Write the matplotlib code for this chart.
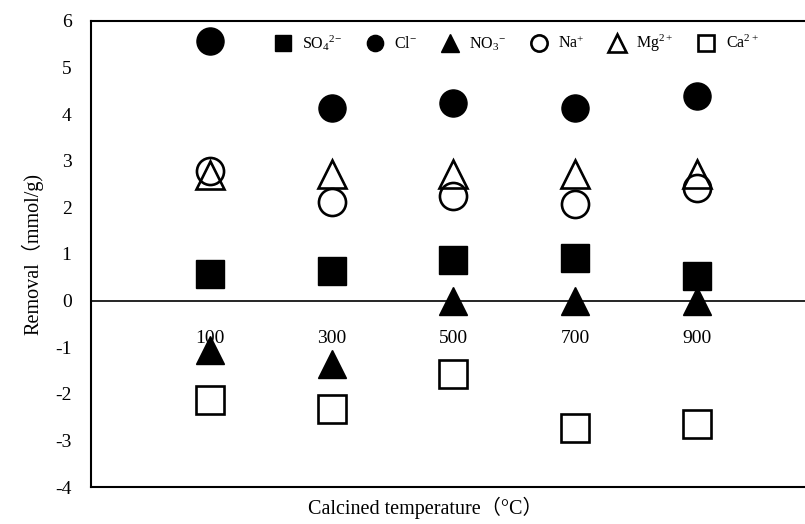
import numpy as np
import matplotlib
matplotlib.use('Agg')
import matplotlib.pyplot as plt

plt.rcParams['font.family'] = ['Liberation Serif', 'Noto Sans CJK SC']
plt.rcParams['mathtext.fontset'] = 'custom'
plt.rcParams['mathtext.rm'] = 'Liberation Serif'
plt.rcParams['mathtext.it'] = 'Liberation Serif'
plt.rcParams['axes.unicode_minus'] = False

# Calcination temperatures (categories)
temps = ['100', '300', '500', '700', '900']

# Removal (mmol/g)
so4 = [0.58, 0.63, 0.88, 0.92, 0.52]
cl = [5.56, 4.14, 4.25, 4.14, 4.40]
no3 = [-1.06, -1.36, 0.0, 0.0, 0.0]
na = [2.77, 2.12, 2.24, 2.08, 2.41]
mg = [2.70, 2.72, 2.71, 2.72, 2.71]
ca = [-2.14, -2.32, -1.57, -2.73, -2.64]

x = np.arange(len(temps))

fig = plt.figure(figsize=(8.05, 5.24), dpi=100)
ax = fig.add_axes([0.113, 0.0706, 0.887, 0.8894])

ms = 19.5
ax.plot(x, so4, 's', ms=ms, color='black', label=r'SO$_4$$^{2\mathrm{-}}$', clip_on=False)
ax.plot(x, cl, 'o', ms=ms, color='black', label=r'Cl$^{\mathrm{-}}$', clip_on=False)
ax.plot(x, no3, '^', ms=ms + 1, color='black', label=r'NO$_3$$^{\mathrm{-}}$', clip_on=False)
ax.plot(x, na, 'o', ms=ms, mfc='white', mec='black', mew=1.9, label=r'Na$^{+}$', clip_on=False)
ax.plot(x, mg, '^', ms=ms + 1, mfc='none', mec='black', mew=1.9, label=r'Mg$^{2+}$', clip_on=False)
ax.plot(x, ca, 's', ms=ms, mfc='white', mec='black', mew=1.9, label=r'Ca$^{2+}$', clip_on=False)

# Zero line carries the category labels, frame lines at top/bottom
ax.axhline(0, color='black', lw=1.2, zorder=1)
ax.set_xlim(-0.977, 4.887)
ax.set_ylim(-4, 6)
ax.set_yticks(np.arange(-4, 7, 1))
ax.set_xticks([])
for xi, t in zip(x, temps):
    ax.annotate(t, (xi, 0), xytext=(0, -21), textcoords='offset points',
                ha='center', va='top', fontsize=14)

ax.spines['right'].set_visible(False)
for s in ['left', 'top', 'bottom']:
    ax.spines[s].set_linewidth(1.5)
ax.tick_params(axis='y', length=0, pad=14, labelsize=14)

ax.set_ylabel('Removal（mmol/g)', fontsize=14.5, labelpad=8)
fig.text(0.528, 0.03, 'Calcined temperature（°C）', ha='center', va='center', fontsize=14.5)

ax.legend(loc='upper left', bbox_to_anchor=(0.235, 1.005), ncol=6, frameon=False,
          markerscale=0.6, fontsize=11.5, handletextpad=0.6, columnspacing=1.45,
          handlelength=1.2)

fig.savefig('out.png', dpi=100)
